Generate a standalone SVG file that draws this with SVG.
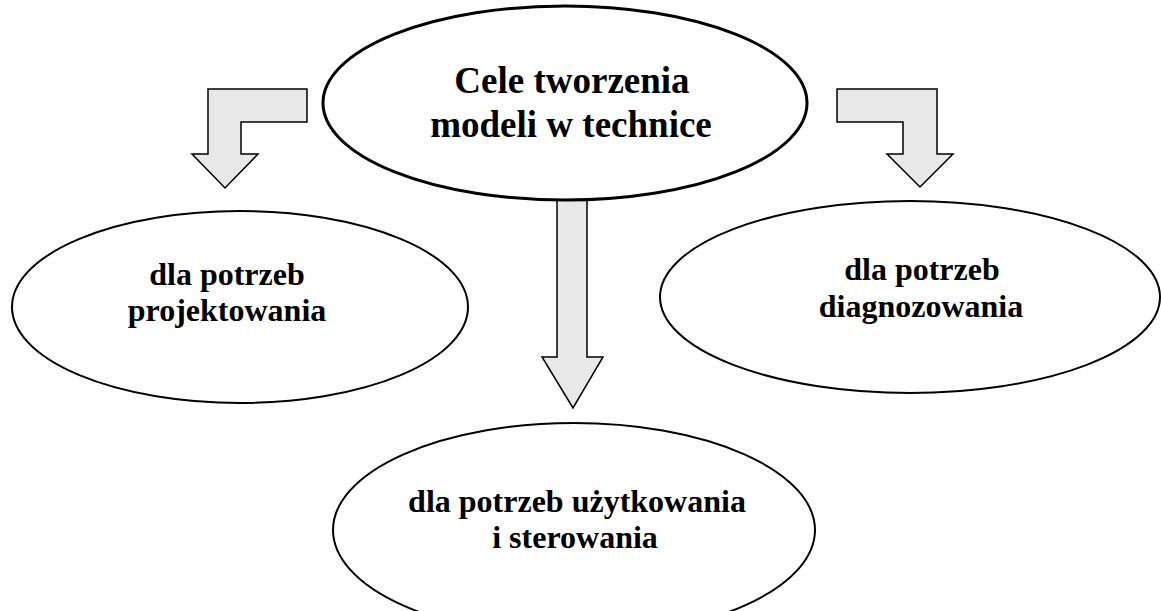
<svg xmlns="http://www.w3.org/2000/svg" width="1161" height="611" viewBox="0 0 1161 611">
  <style>
    .node { fill: #ffffff; stroke: #000000; stroke-width: 2; }
    .main { stroke-width: 3; }
    .arrow { fill: #e8e8e8; stroke: #000000; stroke-width: 1.5; stroke-linejoin: miter; }
    text { font-family: "Liberation Serif", "Times New Roman", serif; font-weight: bold; fill: #000000; text-anchor: middle; }
    .big { font-size: 37px; }
    .mid { font-size: 32px; }
  </style>
  <rect width="1161" height="611" fill="#ffffff"/>

  <!-- block arrows from the central goal to the three purposes -->
  <g id="connectors">
    <path class="arrow" d="M307,89 L208,89 L208,154 L192,154 L225,188 L258,154 L241,154 L241,122 L307,122 Z"/>
    <path class="arrow" d="M837,89 L937,89 L937,154 L953,154 L920,187 L887,154 L903,154 L903,122 L837,122 Z"/>
    <path class="arrow" d="M557,200 L587,200 L587,357 L603,357 L573,408 L542,357 L557,357 Z"/>
  </g>

  <g id="node-cele">
    <ellipse class="node main" cx="565" cy="103" rx="242" ry="97"/>
    <text class="big" x="572" y="93">Cele tworzenia</text>
    <text class="big" x="571" y="137">modeli w technice</text>
  </g>

  <g id="node-projektowanie">
    <ellipse class="node" cx="240" cy="307" rx="228" ry="96"/>
    <text class="mid" x="227" y="285">dla potrzeb</text>
    <text class="mid" x="227" y="321">projektowania</text>
  </g>

  <g id="node-diagnozowanie">
    <ellipse class="node" cx="910" cy="297" rx="250" ry="96"/>
    <text class="mid" x="922" y="280">dla potrzeb</text>
    <text class="mid" x="921" y="317">diagnozowania</text>
  </g>

  <g id="node-uzytkowanie">
    <ellipse class="node" cx="574" cy="530" rx="241" ry="107"/>
    <text class="mid" x="577" y="512">dla potrzeb użytkowania</text>
    <text class="mid" x="575" y="548">i sterowania</text>
  </g>
</svg>
